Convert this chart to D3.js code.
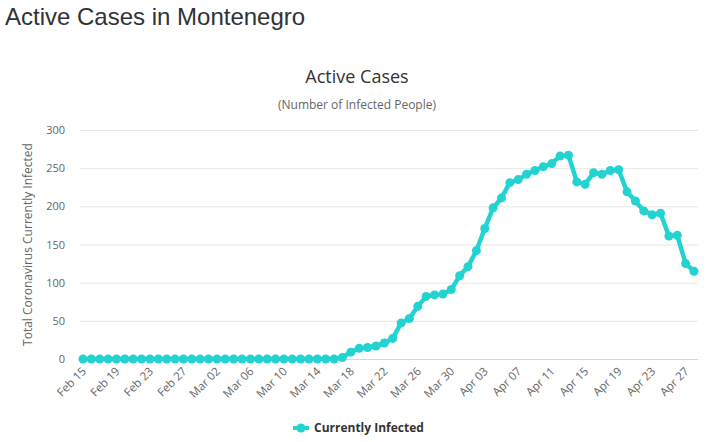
<!DOCTYPE html>
<html>
<head>
<meta charset="utf-8">
<script src="https://cdn.jsdelivr.net/npm/d3@7"></script>
<style>
  html, body { margin: 0; padding: 0; background: #ffffff; }
  svg { display: block; }
</style>
</head>
<body>
<svg id="chart" width="709" height="442"></svg>
<script>
const pageTitle = "Active Cases in Montenegro";
const chartTitle = "Active Cases";
const chartSubtitle = "(Number of Infected People)";
const yAxisTitle = "Total Coronavirus Currently Infected";
const seriesName = "Currently Infected";
const startDate = "2020-02-15";
const endDate = "2020-04-28";
const yTicks = [0, 50, 100, 150, 200, 250, 300];
const xTickLabels = ["Feb 15","Feb 19","Feb 23","Feb 27","Mar 02","Mar 06","Mar 10","Mar 14","Mar 18","Mar 22","Mar 26","Mar 30","Apr 03","Apr 07","Apr 11","Apr 15","Apr 19","Apr 23","Apr 27"];
const activeCases = [
  0,0,0,0,0,0,0,0,0,0,0,0,0,0,0,          // Feb 15 - Feb 29
  0,0,0,0,0,0,0,0,0,0,0,0,0,0,0,0,        // Mar 01 - Mar 16
  2,9,14,15,17,21,27,47,53,69,82,84,85,91,109, // Mar 17 - Mar 31
  121,142,171,198,211,231,235,242,247,252,256,266,267,232,229, // Apr 01 - Apr 15
  244,242,247,248,219,207,194,189,191,161,162,125,115         // Apr 16 - Apr 28
];

const parse = d3.timeParse("%Y-%m-%d");
const dates = d3.timeDay.range(parse(startDate), d3.timeDay.offset(parse(endDate), 1));
const data = dates.map((d, i) => ({ date: d, value: activeCases[i] }));

const color = "#22d3d1";
const svg = d3.select("#chart");

const plot = { left: 80, right: 698, top: 130, bottom: 359 };
const x = d3.scaleTime().domain([parse(startDate), parse(endDate)]).range([83, 694]);
const y = d3.scaleLinear().domain([0, 300]).range([plot.bottom, plot.top]);

// Page title
svg.append("text")
  .attr("x", 5).attr("y", 25)
  .attr("font-family", "'Liberation Sans', Arial, sans-serif")
  .attr("font-size", 24)
  .attr("fill", "#2f3237")
  .text(pageTitle);

// Chart title / subtitle
svg.append("text")
  .attr("x", 357).attr("y", 83)
  .attr("text-anchor", "middle")
  .attr("font-family", "'Open Sans', sans-serif")
  .attr("font-size", 18)
  .attr("fill", "#333333")
  .text(chartTitle);
svg.append("text")
  .attr("x", 357).attr("y", 109)
  .attr("text-anchor", "middle")
  .attr("font-family", "'Open Sans', sans-serif")
  .attr("font-size", 12)
  .attr("fill", "#666666")
  .text(chartSubtitle);

// Gridlines
svg.append("g").selectAll("line")
  .data(yTicks.filter(t => t !== 0))
  .join("line")
  .attr("x1", plot.left).attr("x2", plot.right)
  .attr("y1", d => y(d) + 0.5).attr("y2", d => y(d) + 0.5)
  .attr("stroke", "#e6e6e6").attr("stroke-width", 1);

// X axis baseline
svg.append("line")
  .attr("x1", plot.left).attr("x2", plot.right)
  .attr("y1", y(0) + 0.5).attr("y2", y(0) + 0.5)
  .attr("stroke", "#ccd6eb").attr("stroke-width", 1);

// Y axis labels
svg.append("g").selectAll("text")
  .data(yTicks)
  .join("text")
  .attr("x", 65)
  .attr("y", d => y(d) + 4)
  .attr("text-anchor", "end")
  .attr("font-family", "'Open Sans', sans-serif")
  .attr("font-size", 11)
  .attr("fill", "#666666")
  .text(d => d);

// Y axis title
svg.append("text")
  .attr("transform", `translate(32, ${(plot.top + plot.bottom) / 2}) rotate(-90)`)
  .attr("text-anchor", "middle")
  .attr("font-family", "'Open Sans', sans-serif")
  .attr("font-size", 12)
  .attr("fill", "#666666")
  .text(yAxisTitle);

// X axis labels
const fmt = d3.timeFormat("%b %d");
const tickDates = dates.filter(d => xTickLabels.includes(fmt(d)));
svg.append("g").selectAll("text")
  .data(tickDates)
  .join("text")
  .attr("transform", d => `translate(${x(d) + 4}, ${plot.bottom + 13}) rotate(-45)`)
  .attr("text-anchor", "end")
  .attr("font-family", "'Open Sans', sans-serif")
  .attr("font-size", 11.5)
  .attr("fill", "#666666")
  .text(d => fmt(d));

// Line
const line = d3.line().x(d => x(d.date)).y(d => y(d.value));
svg.append("path")
  .datum(data)
  .attr("d", line)
  .attr("fill", "none")
  .attr("stroke", color)
  .attr("stroke-width", 4.5)
  .attr("stroke-linejoin", "round")
  .attr("stroke-linecap", "round");

// Markers
svg.append("g").selectAll("circle")
  .data(data)
  .join("circle")
  .attr("cx", d => x(d.date))
  .attr("cy", d => y(d.value))
  .attr("r", 4.5)
  .attr("fill", color);

// Legend
const legY = 428;
svg.append("line")
  .attr("x1", 293).attr("x2", 309)
  .attr("y1", legY).attr("y2", legY)
  .attr("stroke", color).attr("stroke-width", 4);
svg.append("circle")
  .attr("cx", 301).attr("cy", legY).attr("r", 4.5)
  .attr("fill", color);
svg.append("text")
  .attr("x", 314).attr("y", legY + 4)
  .attr("font-family", "'Open Sans', sans-serif")
  .attr("font-size", 12)
  .attr("font-weight", "bold")
  .attr("fill", "#333333")
  .text(seriesName);
</script>
</body>
</html>
